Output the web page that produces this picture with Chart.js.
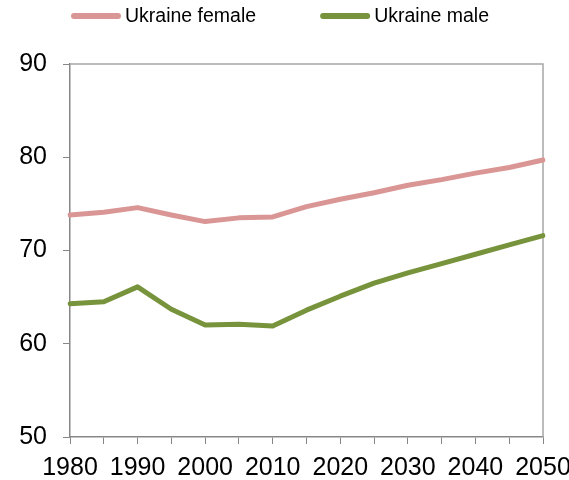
<!DOCTYPE html>
<html>
<head>
<meta charset="utf-8">
<script src="https://cdn.jsdelivr.net/npm/chart.js@4.4.1/dist/chart.umd.min.js"></script>
<style>
  html, body { margin: 0; padding: 0; background: #fff; }
  #wrap { width: 569px; height: 480px; }
</style>
</head>
<body>
<div id="wrap"><canvas id="c" width="569" height="480"></canvas></div>
<script>
const years = [1980, 1985, 1990, 1995, 2000, 2005, 2010, 2015, 2020, 2025, 2030, 2035, 2040, 2045, 2050];
const female = [73.8, 74.1, 74.6, 73.8, 73.1, 73.5, 73.6, 74.7, 75.5, 76.2, 77.0, 77.6, 78.3, 78.9, 79.7];
const male = [64.3, 64.5, 66.1, 63.7, 62.0, 62.1, 61.9, 63.6, 65.1, 66.5, 67.6, 68.6, 69.6, 70.6, 71.6];
const seriesNames = ['Ukraine female', 'Ukraine male'];
const yTicks = [50, 60, 70, 80, 90];

const FONT = "'Liberation Sans', Arial, sans-serif";
const AXIS = '#878787';
const FRAME = '#A6A6A6';

const framePlugin = {
  id: 'frame',
  beforeDatasetsDraw(chart) {
    const { ctx, chartArea: a } = chart;
    ctx.save();
    ctx.strokeStyle = FRAME;
    ctx.lineWidth = 1.5;
    ctx.beginPath();
    ctx.moveTo(a.left, a.top);
    ctx.lineTo(a.right, a.top);
    ctx.lineTo(a.right, a.bottom);
    ctx.stroke();
    ctx.restore();
  }
};

// Legend drawn on top of the chart (line sample + label), centred like the reference
const legendPlugin = {
  id: 'topLegend',
  afterDraw(chart) {
    const { ctx } = chart;
    const lineLen = 50, textGap = 4, itemGap = 64, cy = 16;
    ctx.save();
    ctx.font = '19.5px ' + FONT;
    const items = chart.data.datasets.map(ds => ({
      text: ds.label, color: ds.borderColor, w: ctx.measureText(ds.label).width
    }));
    let total = 0;
    items.forEach((it, i) => { total += lineLen + textGap + it.w + (i ? itemGap : 0); });
    let x = 280 - total / 2;
    items.forEach(it => {
      ctx.strokeStyle = it.color;
      ctx.lineWidth = 6;
      ctx.lineCap = 'round';
      ctx.beginPath();
      ctx.moveTo(x + 3, cy);
      ctx.lineTo(x + lineLen - 3, cy);
      ctx.stroke();
      ctx.fillStyle = '#000';
      ctx.textBaseline = 'middle';
      ctx.textAlign = 'left';
      ctx.fillText(it.text, x + lineLen + textGap, cy + 1);
      x += lineLen + textGap + it.w + itemGap;
    });
    ctx.restore();
  }
};

new Chart(document.getElementById('c'), {
  type: 'line',
  data: {
    labels: years,
    datasets: [
      { label: seriesNames[0], data: female, borderColor: '#D99694', backgroundColor: '#D99694',
        borderWidth: 5, pointRadius: 0, tension: 0, borderCapStyle: 'round', borderJoinStyle: 'round' },
      { label: seriesNames[1], data: male, borderColor: '#77933C', backgroundColor: '#77933C',
        borderWidth: 5, pointRadius: 0, tension: 0, borderCapStyle: 'round', borderJoinStyle: 'round' }
    ]
  },
  options: {
    responsive: false,
    animation: false,
    events: [],
    layout: { padding: { left: 0, right: 26, top: 64, bottom: 0 } },
    plugins: {
      tooltip: { enabled: false },
      legend: { display: false }
    },
    scales: {
      x: {
        type: 'category',
        offset: false,
        grid: { drawOnChartArea: false, drawTicks: true, tickLength: 7, color: AXIS, offset: false },
        border: { color: AXIS, width: 1.5 },
        ticks: {
          autoSkip: false, maxRotation: 0, minRotation: 0,
          font: { family: FONT, size: 25 }, color: '#000', padding: 9,
          callback: (v, i) => (years[i] % 10 === 0 ? String(years[i]) : '')
        },
        afterFit(scale) { scale.paddingRight = 0; scale.paddingLeft = 0; scale.height = 43; }
      },
      y: {
        min: yTicks[0], max: yTicks[yTicks.length - 1],
        afterBuildTicks(scale) { scale.ticks = yTicks.map(v => ({ value: v })); },
        grid: { drawOnChartArea: false, drawTicks: true, tickLength: 7, color: AXIS },
        border: { color: AXIS, width: 1.5 },
        ticks: { font: { family: FONT, size: 25 }, color: '#000', padding: 16 },
        afterFit(scale) { scale.width = 70; }
      }
    }
  },
  plugins: [framePlugin, legendPlugin]
});
</script>
</body>
</html>
